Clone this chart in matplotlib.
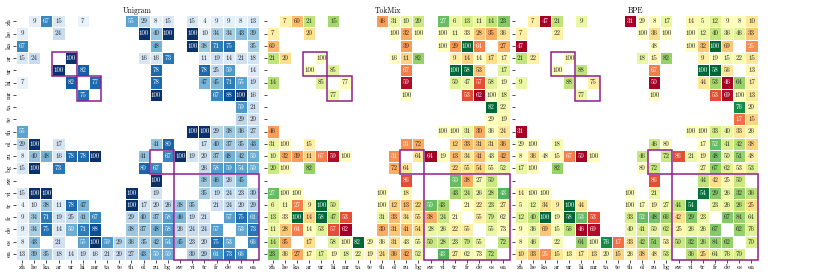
import numpy as np
import matplotlib
matplotlib.use("Agg")
import matplotlib.pyplot as plt
import seaborn as sns
from matplotlib.patches import Rectangle

plt.rcParams["font.family"] = "cmr10"
plt.rcParams["mathtext.fontset"] = "cm"
plt.rcParams["axes.unicode_minus"] = False

langs = ["zh", "he", "ka", "ar", "ur", "hi", "mr", "ta", "te", "th",
         "el", "ru", "bg", "sw", "vi", "tr", "fr", "de", "es", "en"]

# language groups that get a box (start index, size)
groups = [(3, 2), (5, 2), (11, 2), (13, 7)]

_ = None

unigram = [
    [_, 9, 67, 15, _, 7, _, _, _, 55, 29, 8, 15, _, 15, 4, 9, 9, 8, 13],
    [9, _, _, 24, _, _, _, _, _, _, 100, 40, 100, _, 100, 10, 34, 34, 43, 39],
    [67, _, _, _, _, _, _, _, _, _, _, 48, _, _, 100, 38, 71, 75, _, 35],
    [15, 24, _, _, 100, _, _, _, _, _, 16, 16, 73, _, _, 11, 19, 14, 21, 18],
    [_, _, _, 100, _, 82, _, _, _, _, _, 78, _, _, _, 78, 25, 59, _, 14],
    [7, _, _, _, 82, _, 77, _, _, _, _, 78, _, _, _, 47, 45, 71, 55, 19],
    [_, _, _, _, _, 75, _, _, _, _, _, 100, _, _, _, _, 67, 88, 100, 16],
    [_, _, _, _, _, _, _, _, _, _, _, _, _, _, _, _, _, _, 59, 21],
    [_, _, _, _, _, _, _, _, _, _, _, _, _, _, _, _, _, _, 29, 20],
    [55, _, _, _, _, _, _, _, _, _, _, _, _, _, 100, 100, 29, 38, 36, 27],
    [29, 100, _, 17, _, _, _, _, _, _, _, 41, 80, _, _, 17, 40, 37, 35, 43],
    [8, 40, 48, 16, 78, 78, 100, _, _, _, 41, _, 67, 100, 19, 20, 37, 48, 42, 50],
    [15, 100, _, 73, _, _, _, _, _, _, 80, 67, _, _, _, 26, 58, 59, 54, 50],
    [_, _, _, _, _, _, _, _, _, _, _, 100, _, _, _, 38, 46, 26, 45, _],
    [15, 100, 100, _, _, _, _, _, _, 100, _, 19, _, _, _, 35, 19, 24, 23, 30],
    [4, 10, 38, 11, 78, 47, _, _, _, 100, 17, 20, 26, 38, 35, _, 21, 24, 20, 29],
    [9, 34, 71, 19, 25, 41, 67, _, _, 29, 40, 37, 58, 46, 19, 21, _, 57, 75, 61],
    [9, 34, 75, 14, 50, 71, 88, _, _, 38, 37, 48, 58, 26, 24, 24, 57, _, 53, 73],
    [8, 43, _, 21, _, 55, 100, 59, 29, 36, 35, 42, 54, 45, 23, 20, 75, 53, _, 66],
    [13, 39, 35, 18, 14, 19, 16, 21, 20, 27, 43, 50, 50, _, 30, 29, 61, 73, 66, _],
]

tokmix = [
    [_, 7, 60, 21, _, 15, _, _, _, 46, 31, 10, 20, _, 27, 6, 13, 11, 14, 23],
    [7, _, _, 20, _, _, _, _, _, _, 100, 32, 100, _, 100, 11, 33, 28, 35, 36],
    [60, _, _, _, _, _, _, _, _, _, _, 39, _, _, 100, 29, 100, 64, _, 27],
    [21, 20, _, _, 100, _, _, _, _, _, 16, 11, 82, _, _, 9, 14, 14, 17, 17],
    [_, _, _, 100, _, 85, _, _, _, _, _, 67, _, _, _, 100, 58, 53, _, 17],
    [14, _, _, _, 85, _, 77, _, _, _, _, 59, _, _, _, 50, 47, 57, 58, 19],
    [_, _, _, _, _, 77, _, _, _, _, _, 100, _, _, _, _, 53, 62, 100, 18],
    [_, _, _, _, _, _, _, _, _, _, _, _, _, _, _, _, _, _, 82, 22],
    [_, _, _, _, _, _, _, _, _, _, _, _, _, _, _, _, _, _, 29, 19],
    [46, _, _, _, _, _, _, _, _, _, _, _, _, _, 100, 100, 31, 30, 36, 24],
    [31, 100, _, 15, _, _, _, _, _, _, _, 31, 72, _, _, 12, 33, 31, 31, 36],
    [10, 32, 39, 11, 67, 59, 100, _, _, _, 31, _, 64, 64, 19, 13, 34, 41, 43, 42],
    [20, 100, _, 82, _, _, _, _, _, _, 72, 64, _, _, _, 22, 55, 54, 55, 52],
    [_, _, _, _, _, _, _, _, _, _, _, 86, _, _, _, 50, 38, 27, 50, _],
    [27, 100, 100, _, _, _, _, _, _, 100, _, 18, _, _, _, 43, 24, 26, 28, 43],
    [6, 11, 27, 9, 100, 50, _, _, _, 100, 12, 13, 22, 50, 43, _, 21, 22, 23, 27],
    [13, 33, 100, 14, 58, 47, 53, _, _, 31, 33, 34, 55, 38, 24, 21, _, 55, 79, 62],
    [11, 28, 64, 14, 53, 57, 62, _, _, 30, 31, 41, 54, 28, 26, 22, 55, _, 55, 73],
    [14, 35, _, 17, _, 58, 100, 82, 29, 36, 31, 43, 55, 50, 28, 23, 79, 55, _, 72],
    [23, 36, 27, 17, 17, 19, 18, 22, 19, 24, 36, 42, 52, _, 43, 27, 62, 73, 72, _],
]

bpe = [
    [_, 7, 47, 21, _, 9, _, _, _, 31, 29, 8, 17, _, 14, 5, 12, 9, 8, 10],
    [7, _, _, 22, _, _, _, _, _, _, 100, 36, 100, _, 100, 12, 40, 36, 46, 33],
    [47, _, _, _, _, _, _, _, _, _, _, 48, _, _, 100, 32, 100, 69, _, 25],
    [21, 22, _, _, 100, _, _, _, _, _, 18, 15, 82, _, _, 9, 19, 15, 22, 15],
    [_, _, _, 100, _, 88, _, _, _, _, _, 67, _, _, _, 100, 58, 56, _, 13],
    [9, _, _, _, 88, _, 75, _, _, _, _, 50, _, _, _, 44, 53, 46, 64, 17],
    [_, _, _, _, _, 77, _, _, _, _, _, 100, _, _, _, _, 53, 69, 100, 13],
    [_, _, _, _, _, _, _, _, _, _, _, _, _, _, _, _, _, _, 76, 20],
    [_, _, _, _, _, _, _, _, _, _, _, _, _, _, _, _, _, _, 17, 15],
    [31, _, _, _, _, _, _, _, _, _, _, _, _, _, 100, 100, 33, 40, 33, 26],
    [29, 100, _, 18, _, _, _, _, _, _, _, 46, 80, _, _, 17, 52, 41, 42, 38],
    [8, 36, 48, 15, 67, 50, 100, _, _, _, 46, _, 72, 86, 21, 19, 48, 50, 51, 48],
    [17, 100, _, 82, _, _, _, _, _, _, 80, 72, _, _, _, 27, 67, 62, 53, 53],
    [_, _, _, _, _, _, _, _, _, _, _, 86, _, _, _, 44, 42, 25, 50, _],
    [14, 100, 100, _, _, _, _, _, _, 100, _, 21, _, _, _, 54, 29, 26, 32, 36],
    [5, 12, 34, 9, 100, 44, _, _, _, 100, 17, 19, 27, 44, 54, _, 23, 26, 26, 25],
    [12, 40, 100, 19, 58, 53, 53, _, _, 33, 52, 48, 66, 42, 29, 23, _, 67, 84, 64],
    [9, 36, 69, 15, 56, 46, 69, _, _, 40, 41, 50, 62, 25, 26, 26, 67, _, 62, 76],
    [8, 46, _, 22, _, 64, 100, 76, 17, 33, 42, 51, 53, 50, 32, 26, 84, 62, _, 70],
    [10, 33, 25, 15, 13, 17, 13, 20, 15, 26, 38, 48, 53, _, 36, 25, 64, 76, 70, _],
]


def to_array(rows):
    return np.array([[np.nan if v is None else v for v in r] for r in rows], dtype=float)


def labels_of(a):
    return np.where(np.isnan(a), "", np.vectorize(lambda v: "%d" % v if not np.isnan(v) else "")(a))


def draw_panel(ax, color_data, values, cmap, vmin, vmax, title, show_y):
    sns.heatmap(color_data, ax=ax, cmap=cmap, vmin=vmin, vmax=vmax, cbar=False,
                annot=labels_of(values), fmt="", annot_kws={"fontsize": 5},
                linewidths=0.4, linecolor="white",
                xticklabels=langs, yticklabels=langs)
    for start, size in groups:
        ax.add_patch(Rectangle((start, start), size, size, fill=False,
                               edgecolor="#8e1f8e", linewidth=1.1, clip_on=False))
    ax.set_title(title, fontsize=5.5, pad=1.5)
    ax.tick_params(axis="both", labelsize=5, length=2, width=0.5, pad=1)
    plt.setp(ax.get_xticklabels(), rotation=0)
    plt.setp(ax.get_yticklabels(), rotation=90, va="center")
    if not show_y:
        ax.tick_params(labelleft=False)


U = to_array(unigram)
T = to_array(tokmix)
B = to_array(bpe)

fig = plt.figure(figsize=(8.3, 2.77), dpi=100)
w, h, bottom = 0.2928, 0.884, 0.061
ax1 = fig.add_axes([0.0193, bottom, w, h])
ax2 = fig.add_axes([0.3211, bottom, w, h])
ax3 = fig.add_axes([0.6199, bottom, w, h])

draw_panel(ax1, U, U, "Blues", 0, 100, "Unigram", True)
draw_panel(ax2, T - U, T, "RdYlGn", -20, 20, "TokMix", False)
draw_panel(ax3, B - U, B, "RdYlGn", -20, 20, "BPE", False)

fig.savefig("out.png", dpi=100)
